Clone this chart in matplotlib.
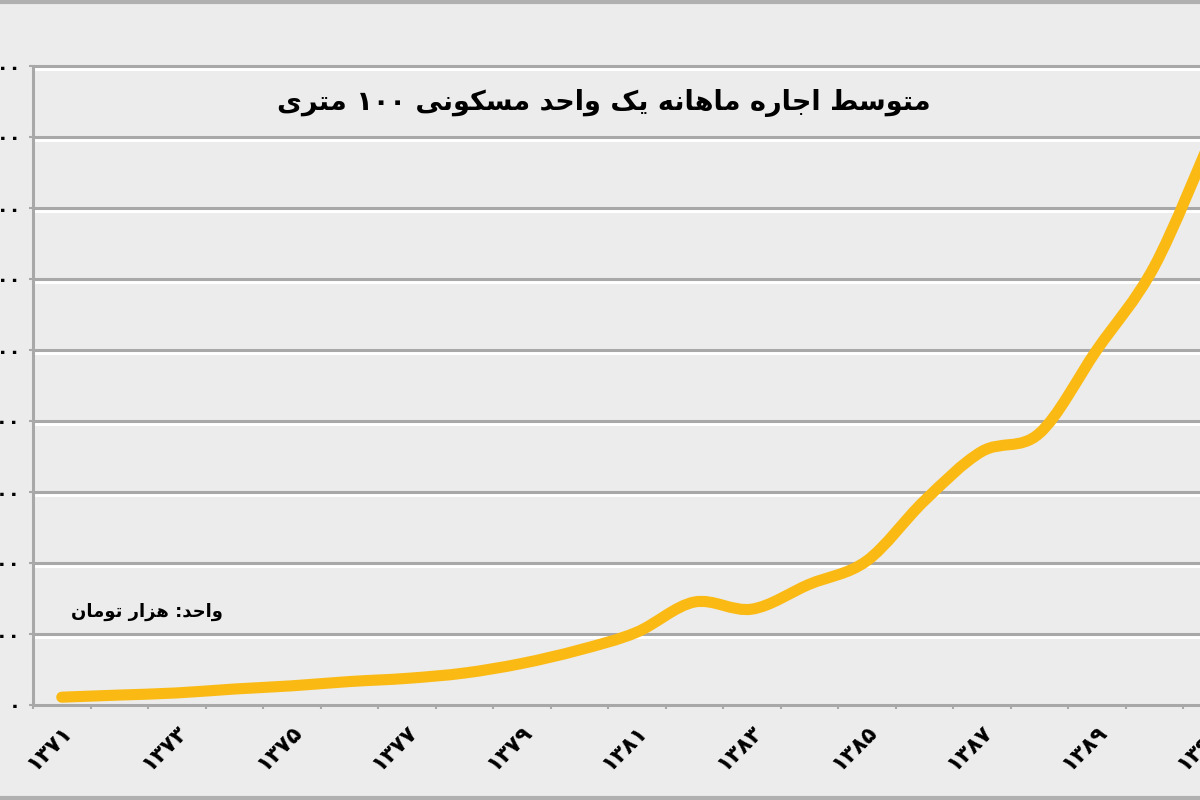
import re
import matplotlib
matplotlib.use('Agg')
import matplotlib.pyplot as plt
import matplotlib.patheffects as pe
from matplotlib.path import Path
from matplotlib.patches import PathPatch
from matplotlib.lines import Line2D

# data (thousand toman)
years = list(range(1371, 1392))
rent = [22, 28, 34, 45, 54, 66, 75, 90, 117, 155, 205,
        290, 270, 340, 406, 575, 714, 765, 1000, 1235, 1600]
y_ticks = [0, 200, 400, 600, 800, 1000, 1200, 1400, 1600, 1800]
label_years = years[::2]

title = 'متوسط اجاره ماهانه یک واحد مسکونی ۱۰۰ متری'
unit = 'واحد: هزار تومان'

FA_DIGITS = '۰۱۲۳۴۵۶۷۸۹'


def fa_num(n):
    return ''.join(FA_DIGITS[int(c)] for c in str(n))


# isolated, final, initial, medial presentation forms
FORMS = {
    'ا': ('\uFE8D', '\uFE8E', None, None),
    'ت': ('\uFE95', '\uFE96', '\uFE97', '\uFE98'),
    'ج': ('\uFE9D', '\uFE9E', '\uFE9F', '\uFEA0'),
    'ح': ('\uFEA1', '\uFEA2', '\uFEA3', '\uFEA4'),
    'د': ('\uFEA9', '\uFEAA', None, None),
    'ر': ('\uFEAD', '\uFEAE', None, None),
    'ز': ('\uFEAF', '\uFEB0', None, None),
    'س': ('\uFEB1', '\uFEB2', '\uFEB3', '\uFEB4'),
    'ط': ('\uFEC1', '\uFEC2', '\uFEC3', '\uFEC4'),
    'م': ('\uFEE1', '\uFEE2', '\uFEE3', '\uFEE4'),
    'ن': ('\uFEE5', '\uFEE6', '\uFEE7', '\uFEE8'),
    'ه': ('\uFEE9', '\uFEEA', '\uFEEB', '\uFEEC'),
    'و': ('\uFEED', '\uFEEE', None, None),
    'ی': ('\uFEEF', '\uFEF0', '\uFEF3', '\uFEF4'),
    'ک': ('\uFB8E', '\uFB8F', '\uFB90', '\uFB91'),
}


def shape(text):
    out = []
    for i, c in enumerate(text):
        if c not in FORMS:
            out.append(c)
            continue
        prev = text[i - 1] if i > 0 else ''
        nxt = text[i + 1] if i + 1 < len(text) else ''
        j_prev = prev in FORMS and FORMS[prev][2] is not None
        j_next = FORMS[c][2] is not None and nxt in FORMS
        f = FORMS[c]
        if j_prev and j_next:
            out.append(f[3])
        elif j_prev:
            out.append(f[1])
        elif j_next:
            out.append(f[2])
        else:
            out.append(f[0])
    vis = ''.join(out)[::-1]
    return re.sub('[۰-۹]+', lambda m: m.group(0)[::-1], vis)


plt.rcParams['font.family'] = ['DejaVu Sans']
bg = '#ececec'
grid_c = '#a8a8a8'

fig = plt.figure(figsize=(12, 8), dpi=100, facecolor=bg)
ax = fig.add_axes([33 / 1200, 95 / 800, 1207.5 / 1200, 639 / 800])
ax.set_facecolor(bg)
ax.set_xlim(0, len(years))
ax.set_ylim(0, 1800)

xs = [i + 0.5 for i in range(len(years))]
pts = list(zip(xs, rent))

# smoothed line (bezier through the points)
verts = [pts[0]]
codes = [Path.MOVETO]
n = len(pts)
for i in range(n - 1):
    p0 = pts[i - 1] if i > 0 else pts[i]
    p1 = pts[i]
    p2 = pts[i + 1]
    p3 = pts[i + 2] if i + 2 < n else pts[i + 1]
    c1 = (p1[0] + (p2[0] - p0[0]) / 6, p1[1] + (p2[1] - p0[1]) / 6)
    c2 = (p2[0] - (p3[0] - p1[0]) / 6, p2[1] - (p3[1] - p1[1]) / 6)
    verts += [c1, c2, p2]
    codes += [Path.CURVE4] * 3
ax.add_patch(PathPatch(Path(verts, codes), facecolor='none', edgecolor='#fbb913',
                       lw=8, capstyle='round', joinstyle='round', zorder=3))

for v in y_ticks[1:]:
    ax.axhline(v, color=grid_c, lw=2.2, zorder=1, clip_on=False,
               path_effects=[pe.SimpleLineShadow(offset=(0, -1.8), shadow_color='white', alpha=1),
                             pe.Normal()])

for s in ['top', 'right']:
    ax.spines[s].set_visible(False)
for s in ['left', 'bottom']:
    ax.spines[s].set_color(grid_c)
    ax.spines[s].set_linewidth(2.2)

ax.set_yticks(y_ticks)
ax.set_yticklabels([fa_num(v) for v in y_ticks], fontsize=14, fontweight='bold')
ax.tick_params(axis='y', length=3, width=1.5, color=grid_c, pad=6)

ax.set_xticks([xs[i] for i in range(0, n, 2)])
ax.set_xticklabels([fa_num(y) for y in label_years], fontsize=16, fontweight='bold',
                   rotation=45, ha='right', va='top', rotation_mode='anchor')
ax.set_xticks(range(len(years) + 1), minor=True)
ax.tick_params(axis='x', which='major', length=0, pad=12)
ax.tick_params(axis='x', which='minor', length=3, width=1.5, color=grid_c)

fig.text(604 / 1200, 1 - 103 / 800, shape(title), ha='center', va='center',
         fontsize=19.5, fontweight='bold')
fig.text(147 / 1200, 1 - 612 / 800, shape(unit), ha='center', va='center',
         fontsize=13, fontweight='bold')

# frame lines at top and bottom of the picture
fig.add_artist(Line2D([0, 1], [1 - 1.5 / 800, 1 - 1.5 / 800], color='#b0b0b0', lw=3))
fig.add_artist(Line2D([0, 1], [2 / 800, 2 / 800], color='#b0b0b0', lw=3))

fig.savefig('out.png', dpi=100, facecolor=bg)
